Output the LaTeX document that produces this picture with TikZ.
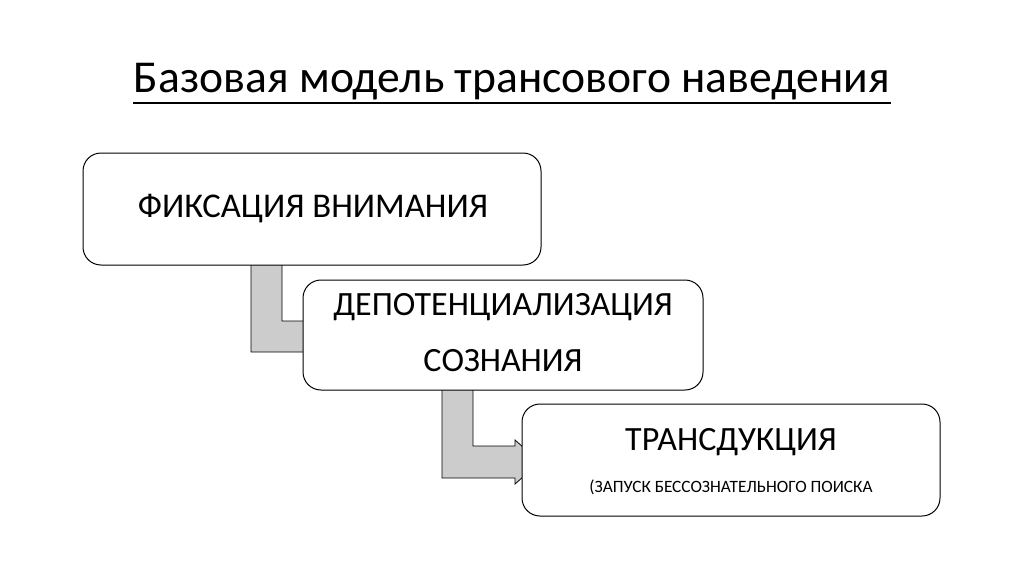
\documentclass[tikz,border=0pt]{standalone}
\usepackage{fontspec}
\setmainfont{Carlito}
\begin{document}
\begin{tikzpicture}[x=1pt,y=-1pt,
  box/.style={draw=black,fill=white,rounded corners=18pt,line width=1pt},
  bent/.style={draw=black,fill=black!20,line width=0.8pt}]
\useasboundingbox (0,0) rectangle (1024,574);
\node[font=\fontsize{45.6}{50}\selectfont] (title) at (512,82) {Базовая модель трансового наведения};
\draw[line width=2pt] (133,103) -- (891,103);
\draw[bent] (251,262) -- (282,262) -- (282,321) -- (308,321) -- (308,315) -- (330,336) -- (308,358) -- (308,352) -- (251,352) -- cycle;
\draw[bent] (442,388) -- (473,388) -- (473,446) -- (515,446) -- (515,440) -- (540,462) -- (515,484) -- (515,478) -- (442,478) -- cycle;
\draw[box] (83,153) rectangle (541,265);
\node (b1) at (313,209) {\fontsize{34.7}{38}\selectfont ФИКСАЦИЯ ВНИМАНИЯ};
\draw[box] (303,280) rectangle (703,390);
\node[align=center,font=\fontsize{34}{56}\selectfont] (b2) at (503,333) {ДЕПОТЕНЦИАЛИЗАЦИЯ\\СОЗНАНИЯ};
\draw[box] (522,404) rectangle (940,516);
\node (b3) at (731,442) {\fontsize{34}{38}\selectfont ТРАНСДУКЦИЯ};
\node (b3s) at (731,487) {\fontsize{17.3}{20}\selectfont (ЗАПУСК БЕССОЗНАТЕЛЬНОГО ПОИСКА};
\end{tikzpicture}
\end{document}
